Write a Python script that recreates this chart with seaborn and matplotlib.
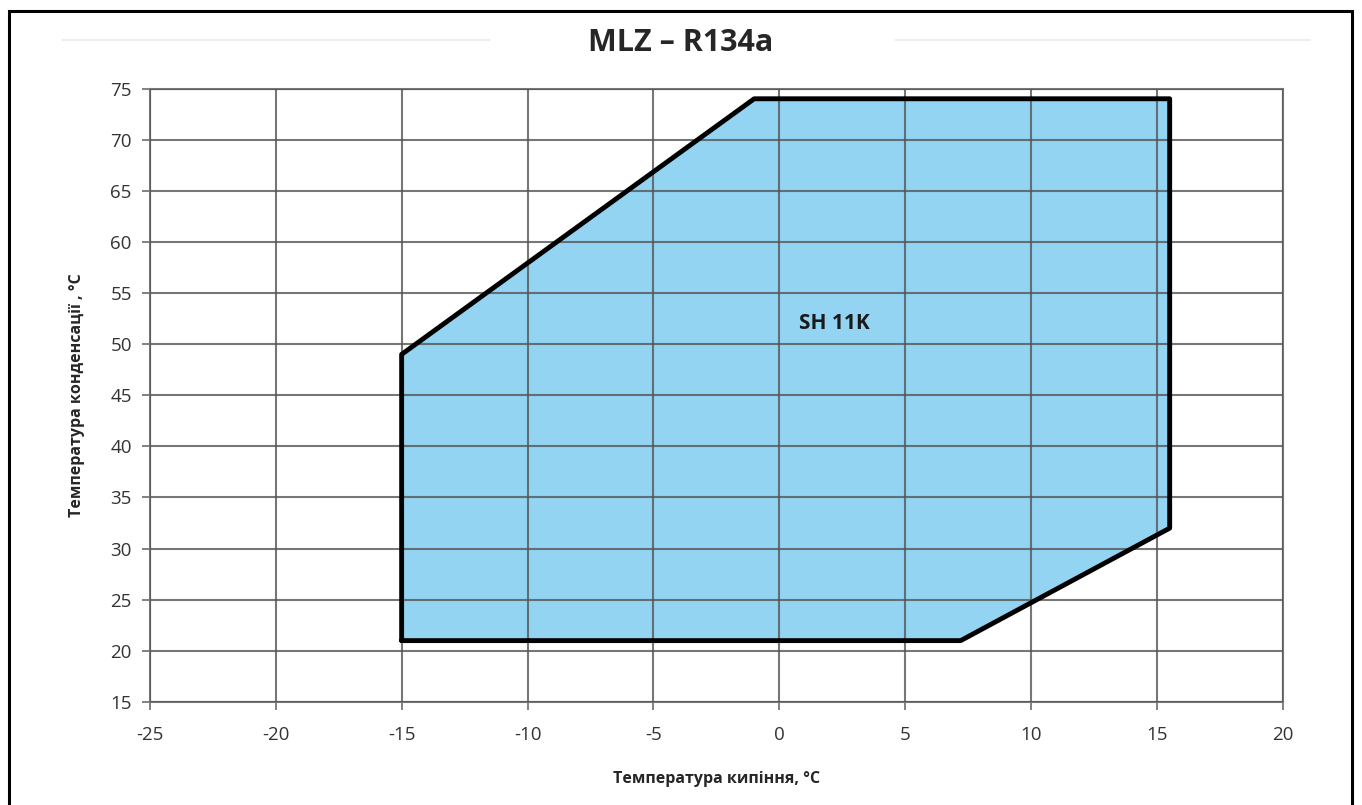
import matplotlib
matplotlib.use('Agg')
import matplotlib.pyplot as plt
import seaborn as sns
import pandas as pd
from matplotlib.patches import Rectangle
from matplotlib.lines import Line2D

# envelope vertices (evaporating temp, condensing temp)
t_evap = [-15, -15, -1, 15.5, 15.5, 7.2, -15]
t_cond = [21, 49, 74, 74, 32, 21, 21]
x_ticks = [-25, -20, -15, -10, -5, 0, 5, 10, 15, 20]
y_ticks = [15, 20, 25, 30, 35, 40, 45, 50, 55, 60, 65, 70, 75]
zone_label = 'SH 11K'
zone_pos = (2.2, 52)

sns.set_style('white')
plt.rcParams['font.family'] = ['Open Sans', 'DejaVu Sans']
plt.rcParams['axes.unicode_minus'] = False

env = pd.DataFrame({'evap': t_evap, 'cond': t_cond})

fig = plt.figure(figsize=(13.62, 8.05), dpi=100)
ax = fig.add_axes([0.110, 0.128, 0.832, 0.762])

ax.fill(env['evap'], env['cond'], color='#92d4f2', zorder=1)
sns.lineplot(data=env, x='evap', y='cond', sort=False, estimator=None,
             color='black', lw=3.5, ax=ax, zorder=3)

ax.set_xlim(-25, 20)
ax.set_ylim(15, 75)
ax.set_xticks(x_ticks)
ax.set_yticks(y_ticks)
ax.grid(True, color='#555555', lw=1.5, alpha=0.8, zorder=2)
ax.set_axisbelow(False)
for s in ax.spines.values():
    s.set_color('#777777')
    s.set_linewidth(1.5)
ax.tick_params(axis='both', which='both', length=6, width=1.3, color='#777777',
               labelsize=13.5, labelcolor='#333333', direction='out',
               bottom=True, left=True)
ax.tick_params(axis='x', pad=11)
ax.tick_params(axis='y', pad=7)

ax.text(zone_pos[0], zone_pos[1], zone_label, ha='center', va='center',
        fontsize=15, fontweight='bold', color='#1a1a1a', zorder=4)

ax.set_xlabel('Температура кипіння, °C', fontsize=11.5, fontweight='bold', labelpad=20)
ax.set_ylabel('Температура конденсації , °C', fontsize=11.5, fontweight='bold', labelpad=18)
fig.suptitle('MLZ – R134a', fontsize=22, fontweight='bold', y=0.965)

# faint rules near the top, as in the scanned original
fig.add_artist(Line2D([62 / 1362, 490 / 1362], [1 - 40 / 805] * 2,
                      transform=fig.transFigure, color='#eeeeee', lw=1.5))
fig.add_artist(Line2D([895 / 1362, 1310 / 1362], [1 - 40 / 805] * 2,
                      transform=fig.transFigure, color='#eeeeee', lw=1.5))

fig.patches.append(Rectangle((9 / 1362, -0.02), (1352 - 9) / 1362, 1.02 - 11 / 805,
                             transform=fig.transFigure, fill=False,
                             edgecolor='black', lw=2.2))

fig.savefig('out.png', dpi=100)
